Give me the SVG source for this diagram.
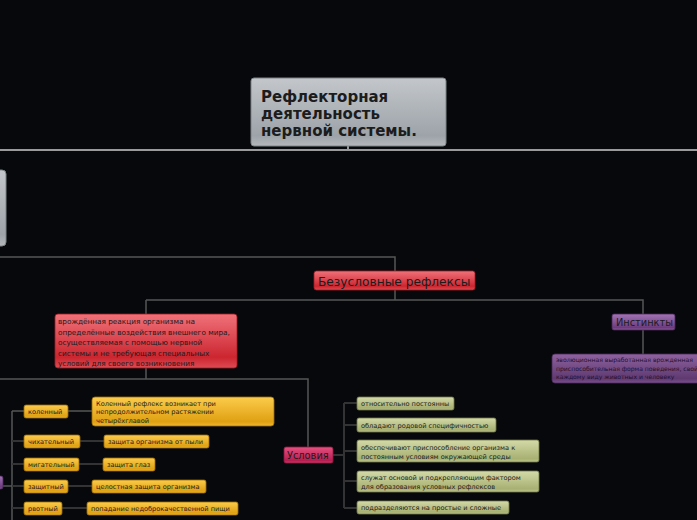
<svg xmlns="http://www.w3.org/2000/svg" width="697" height="520" viewBox="0 0 697 520">
<defs>
<linearGradient id="gGray" x1="0" y1="0" x2="0" y2="1"><stop offset="0" stop-color="#c3c7cb"/><stop offset="0.85" stop-color="#9da3a9"/><stop offset="1" stop-color="#b4b8bc"/></linearGradient>
<linearGradient id="gRed" x1="0" y1="0" x2="0" y2="1"><stop offset="0" stop-color="#f0727a"/><stop offset="0.8" stop-color="#cc2630"/><stop offset="1" stop-color="#de4a52"/></linearGradient>
<linearGradient id="gPink" x1="0" y1="0" x2="0" y2="1"><stop offset="0" stop-color="#e4507f"/><stop offset="0.85" stop-color="#b81d52"/><stop offset="1" stop-color="#cc3a68"/></linearGradient>
<linearGradient id="gPurple" x1="0" y1="0" x2="0" y2="1"><stop offset="0" stop-color="#a274b4"/><stop offset="0.85" stop-color="#6c3c7e"/><stop offset="1" stop-color="#8a5a9c"/></linearGradient>
<linearGradient id="gPurple2" x1="0" y1="0" x2="0" y2="1"><stop offset="0" stop-color="#8e62a0"/><stop offset="0.85" stop-color="#5f3a70"/><stop offset="1" stop-color="#7a5090"/></linearGradient>
<linearGradient id="gGreen" x1="0" y1="0" x2="0" y2="1"><stop offset="0" stop-color="#d4daa8"/><stop offset="0.85" stop-color="#a8b072"/><stop offset="1" stop-color="#bcc488"/></linearGradient>
<linearGradient id="gOrange" x1="0" y1="0" x2="0" y2="1"><stop offset="0" stop-color="#fccc4c"/><stop offset="0.85" stop-color="#e0a012"/><stop offset="1" stop-color="#f0b830"/></linearGradient>
</defs>
<style>
.bg{fill:#07080b}
.cl{fill:none;stroke:#555;stroke-width:1.5}
.cl2{fill:none;stroke:#333;stroke-width:2}
.cl3{fill:none;stroke:#9a9a9a;stroke-width:2}
.gray{fill:url(#gGray);stroke:#7d8388;stroke-width:1}
.red{fill:url(#gRed);stroke:#a01c24;stroke-width:0.8}
.pink{fill:url(#gPink);stroke:#8c1840;stroke-width:0.8}
.purple{fill:url(#gPurple);stroke:#4a2858;stroke-width:0.8}
.purple2{fill:url(#gPurple2);stroke:#4a2858;stroke-width:0.8}
.green{fill:url(#gGreen);stroke:#6e7648;stroke-width:0.8}
.orange{fill:url(#gOrange);stroke:#9a6c08;stroke-width:0.8}
text{font-family:"DejaVu Sans","Noto Sans",sans-serif;fill:#1c1c1c}
.t{font-size:15px;font-weight:bold}
.m{font-size:12.2px}
.s{font-size:9.8px}
.x{font-size:7.3px}
.y{font-size:6.6px}
.z{font-size:6.1px;fill:#241030}
</style>
<rect class="bg" x="0" y="0" width="697" height="520"/>
<g id="connectors">
<path class="cl3" d="M0 150H697M348 146V150"/>
<path class="cl" d="M0 257H395V271"/>
<path class="cl" d="M395 290V300M146 300H643V314M146 300V314M643 330V354"/>
<path class="cl" d="M146 368V379M0 379H308V447"/>
<path class="cl2" d="M333 455H344M344 403V508M344 403H357M344 425H357M344 451H357M344 481H357M344 508H357"/>
<path class="cl" d="M12 411V520M12 411H24"/>
<path class="cl2" d="M12 441H24M12 464H24M12 486H24M12 508H24"/>
<path class="cl" d="M3 486H12M68 411H92"/>
<path class="cl2" d="M80 441H104M79 464H103M68 486H92M62 508H87"/>
</g>
<g id="title"><rect class="gray" x="251" y="78" width="195" height="68" rx="3"/>
<text class="t" x="261" y="102">Рефлекторная</text><text class="t" x="261" y="119">деятельность</text><text class="t" x="261" y="136">нервной системы.</text></g>
<g id="left-node"><rect class="gray" x="-10" y="170" width="16" height="76" rx="4"/></g>
<g id="unconditioned"><rect class="red" x="314" y="271" width="161" height="19" rx="2.5"/><text class="m" x="318" y="285.5">Безусловные рефлексы</text></g>
<g id="definition"><rect class="red" x="55" y="314" width="182" height="54" rx="3"/>
<text class="x" x="58" y="324">врождённая реакция организма на</text>
<text class="x" x="58" y="334.5">определённые воздействия внешнего мира,</text>
<text class="x" x="58" y="345">осуществляемая с помощью нервной</text>
<text class="x" x="58" y="355.5">системы и не требующая специальных</text>
<text class="x" x="58" y="366">условий для своего возникновения</text></g>
<g id="instincts"><rect class="purple" x="612" y="314" width="63" height="16" rx="2"/><text class="s" x="616" y="325.5">Инстинкты</text></g>
<g id="instincts-def"><rect class="purple2" x="552" y="354" width="160" height="29" rx="3"/>
<text class="z" x="556" y="362">эволюционная выработанная врожденная</text>
<text class="z" x="556" y="370.5">приспособительная форма поведения, свойственная</text>
<text class="z" x="556" y="379">каждому виду животных и человеку</text></g>
<g id="conditions"><rect class="pink" x="284" y="447" width="49" height="16" rx="2"/><text class="s" x="287" y="458.5">Условия</text></g>
<g id="c1"><rect class="green" x="357" y="397" width="97" height="13" rx="2"/><text class="y" x="361" y="406">относительно постоянны</text></g>
<g id="c2"><rect class="green" x="357" y="418" width="139" height="14" rx="2"/><text class="y" x="361" y="428">обладают родовой специфичностью</text></g>
<g id="c3"><rect class="green" x="357" y="440" width="182" height="22" rx="2"/><text class="y" x="361" y="449.5">обеспечивают приспособление организма к</text><text class="y" x="361" y="458.5">постоянным условиям окружающей среды</text></g>
<g id="c4"><rect class="green" x="357" y="471" width="182" height="21" rx="2"/><text class="y" x="361" y="480">служат основой и подкрепляющим фактором</text><text class="y" x="361" y="489">для образования условных рефлексов</text></g>
<g id="c5"><rect class="green" x="357" y="501" width="152" height="13" rx="2"/><text class="y" x="361" y="510">подразделяются на простые и сложные</text></g>
<g id="small-purple"><rect class="purple" x="-6" y="476" width="9" height="13" rx="2"/></g>
<g id="knee"><rect class="orange" x="24" y="405" width="44" height="13" rx="2"/><text class="y" x="28" y="414">коленный</text></g>
<g id="knee-def"><rect class="orange" x="92" y="397" width="182" height="29" rx="3"/><text class="y" x="96" y="405.5">Коленный рефлекс возникает при</text><text class="y" x="96" y="414">непродолжительном растяжении</text><text class="y" x="96" y="422.5">четырёхглавой</text></g>
<g id="sneeze"><rect class="orange" x="24" y="435" width="56" height="13" rx="2"/><text class="y" x="28" y="444">чихательный</text></g>
<g id="sneeze-def"><rect class="orange" x="104" y="435" width="105" height="13" rx="2"/><text class="y" x="108" y="444">защита организма от пыли</text></g>
<g id="blink"><rect class="orange" x="24" y="458" width="55" height="13" rx="2"/><text class="y" x="28" y="467">мигательный</text></g>
<g id="blink-def"><rect class="orange" x="103" y="458" width="52" height="13" rx="2"/><text class="y" x="107" y="467">защита глаз</text></g>
<g id="protect"><rect class="orange" x="24" y="480" width="44" height="13" rx="2"/><text class="y" x="28" y="489">защитный</text></g>
<g id="protect-def"><rect class="orange" x="92" y="480" width="114" height="13" rx="2"/><text class="y" x="96" y="489">целостная защита организма</text></g>
<g id="vomit"><rect class="orange" x="24" y="502" width="38" height="13" rx="2"/><text class="y" x="28" y="511">рвотный</text></g>
<g id="vomit-def"><rect class="orange" x="87" y="502" width="151" height="13" rx="2"/><text class="y" x="91" y="511">попадание недоброкачественной пищи</text></g>
</svg>
